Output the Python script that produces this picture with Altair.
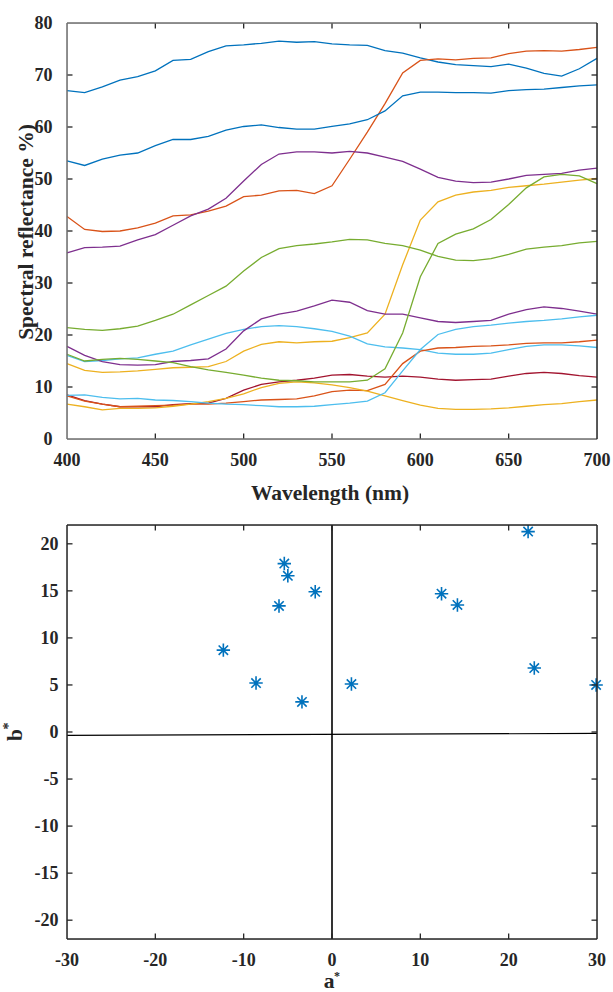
import altair as alt
import pandas as pd

# ---------------------------------------------------------------------------
# Spectral reflectance curves, 400-700 nm in 10 nm steps
# ---------------------------------------------------------------------------
wavelength = list(range(400, 701, 10))

blue_1 = [67.0, 66.6, 67.7, 69.0, 69.7, 70.8, 72.8, 73.0, 74.5, 75.6, 75.8, 76.1, 76.5, 76.3, 76.4, 76.0,
          75.8, 75.7, 74.7, 74.2, 73.3, 72.5, 72.0, 71.8, 71.6, 72.1, 71.3, 70.3, 69.8, 71.2, 73.2]
orange_1 = [42.8, 40.3, 39.9, 40.0, 40.6, 41.5, 42.9, 43.1, 43.8, 44.8, 46.6, 46.9, 47.7, 47.8, 47.2, 48.7,
            53.8, 59.0, 64.5, 70.4, 72.8, 73.1, 72.9, 73.2, 73.3, 74.1, 74.6, 74.7, 74.6, 74.9, 75.3]
yellow_1 = [14.5, 13.2, 12.8, 12.9, 13.1, 13.4, 13.7, 13.8, 13.9, 14.9, 16.9, 18.2, 18.7, 18.5, 18.7, 18.8,
            19.5, 20.4, 24.0, 33.5, 42.1, 45.6, 46.9, 47.5, 47.8, 48.4, 48.7, 49.0, 49.4, 49.8, 50.1]
purple_1 = [35.8, 36.8, 36.9, 37.1, 38.3, 39.3, 41.1, 42.9, 44.2, 46.3, 49.6, 52.8, 54.8, 55.2, 55.2, 55.0,
            55.3, 55.0, 54.2, 53.4, 51.9, 50.3, 49.6, 49.3, 49.4, 50.0, 50.7, 50.9, 51.1, 51.7, 52.1]
green_1 = [21.4, 21.1, 20.9, 21.2, 21.7, 22.8, 24.0, 25.8, 27.6, 29.4, 32.3, 34.9, 36.6, 37.2, 37.5, 37.9,
           38.4, 38.3, 37.6, 37.2, 36.3, 35.1, 34.4, 34.3, 34.7, 35.5, 36.5, 36.9, 37.2, 37.7, 38.0]
cyan_1 = [16.1, 14.9, 15.1, 15.4, 15.6, 16.3, 16.9, 18.1, 19.2, 20.3, 21.1, 21.6, 21.8, 21.6, 21.2, 20.7,
          19.8, 18.3, 17.7, 17.5, 17.2, 16.5, 16.3, 16.3, 16.5, 17.2, 17.8, 18.1, 18.1, 17.9, 17.6]
red_1 = [8.5, 7.4, 6.7, 6.2, 6.2, 6.2, 6.6, 6.8, 6.9, 7.8, 9.4, 10.5, 11.0, 11.3, 11.7, 12.3,
         12.4, 12.1, 11.9, 12.1, 11.9, 11.5, 11.3, 11.4, 11.5, 12.1, 12.6, 12.8, 12.6, 12.2, 11.9]
blue_2 = [53.5, 52.6, 53.8, 54.6, 55.0, 56.4, 57.6, 57.6, 58.2, 59.4, 60.1, 60.4, 59.9, 59.6, 59.6, 60.1,
          60.6, 61.4, 63.1, 66.0, 66.7, 66.7, 66.6, 66.6, 66.5, 67.0, 67.2, 67.3, 67.6, 67.9, 68.1]
orange_2 = [8.3, 7.3, 6.7, 6.2, 6.3, 6.4, 6.5, 6.7, 6.7, 6.9, 7.2, 7.5, 7.6, 7.7, 8.3, 9.1,
            9.4, 9.3, 10.5, 14.5, 16.9, 17.5, 17.6, 17.8, 17.9, 18.1, 18.4, 18.5, 18.5, 18.7, 19.0]
yellow_2 = [6.7, 6.2, 5.6, 5.9, 5.9, 6.0, 6.3, 6.7, 7.2, 7.8, 8.7, 9.9, 10.7, 11.0, 10.8, 10.4,
            9.9, 9.2, 8.3, 7.4, 6.5, 5.9, 5.7, 5.7, 5.8, 6.0, 6.3, 6.6, 6.8, 7.2, 7.5]
purple_2 = [17.8, 16.1, 14.9, 14.3, 14.2, 14.3, 14.9, 15.1, 15.4, 17.3, 20.8, 23.1, 24.0, 24.6, 25.6, 26.7,
            26.3, 24.7, 24.0, 24.0, 23.3, 22.6, 22.4, 22.6, 22.8, 24.0, 24.9, 25.4, 25.1, 24.6, 24.0]
green_2 = [16.3, 15.0, 15.3, 15.5, 15.3, 15.0, 14.7, 13.9, 13.3, 12.8, 12.3, 11.7, 11.3, 11.2, 11.0, 11.0,
           11.0, 11.3, 13.5, 20.4, 31.2, 37.6, 39.4, 40.4, 42.2, 45.1, 48.3, 50.4, 50.9, 50.6, 49.1]
cyan_2 = [8.4, 8.5, 8.0, 7.7, 7.8, 7.5, 7.4, 7.2, 6.9, 6.7, 6.6, 6.4, 6.2, 6.2, 6.3, 6.6,
          6.9, 7.3, 8.9, 13.1, 17.2, 20.1, 21.1, 21.6, 21.9, 22.3, 22.6, 22.8, 23.1, 23.5, 23.8]

series_names = ["S1", "S2", "S3", "S4", "S5", "S6", "S7", "S8", "S9", "S10", "S11", "S12", "S13"]
series_values = [blue_1, orange_1, yellow_1, purple_1, green_1, cyan_1, red_1,
                 blue_2, orange_2, yellow_2, purple_2, green_2, cyan_2]
series_colors = ["#0072BD", "#D95319", "#EDB120", "#7E2F8E", "#77AC30", "#4DBEEE", "#A2142F",
                 "#0072BD", "#D95319", "#EDB120", "#7E2F8E", "#77AC30", "#4DBEEE"]

# ---------------------------------------------------------------------------
# CIELAB chromaticity of the same samples
# ---------------------------------------------------------------------------
a_star = [-5.4, -5.0, -1.9, -6.0, -12.3, -8.6, -3.4, 2.2, 12.4, 14.2, 22.2, 22.9, 29.9]
b_star = [17.9, 16.6, 14.9, 13.4, 8.7, 5.2, 3.2, 5.1, 14.7, 13.5, 21.3, 6.8, 5.0]

# axis ticks
wl_ticks = [400, 450, 500, 550, 600, 650, 700]
refl_ticks = [0, 10, 20, 30, 40, 50, 60, 70, 80]
a_ticks = [-30, -20, -10, 0, 10, 20, 30]
b_ticks = [-20, -15, -10, -5, 0, 5, 10, 15, 20]

FONT = "Liberation Serif, Times New Roman, Times, DejaVu Serif, serif"
DARK = "#262626"
TICK_LEN = 5.5
TICK_FONT = 18
TITLE_FONT = 21.5
LEFT, TOP = 66, 22          # offset of the first plot area inside the page

rows = []
for name, vals in zip(series_names, series_values):
    for w, v in zip(wavelength, vals):
        rows.append({"series": name, "wavelength": w, "reflectance": v})
spectra = pd.DataFrame(rows)
lab = pd.DataFrame({"a": a_star, "b": b_star})
one_row = alt.Data(values=[{}])
text_style = dict(font=FONT, fontWeight="bold", color=DARK)


def tick_labels(xvals, yvals, xfield, yfield, xscale, yscale, h, x_base, y_right):
    """Numeric labels under the x axis and left of the y axis."""
    xs = alt.Chart(pd.DataFrame({xfield: xvals})).transform_calculate(
        label=f"'' + datum.{xfield}"
    ).mark_text(fontSize=TICK_FONT, baseline="alphabetic", align="center", **text_style).encode(
        x=alt.X(f"{xfield}:Q", scale=xscale, axis=None),
        y=alt.value(h + x_base),
        text="label:N",
    )
    ys = alt.Chart(pd.DataFrame({yfield: yvals})).transform_calculate(
        label=f"'' + datum.{yfield}"
    ).mark_text(fontSize=TICK_FONT, baseline="alphabetic", align="right", dy=6,
                **text_style).encode(
        y=alt.Y(f"{yfield}:Q", scale=yscale, axis=None),
        x=alt.value(y_right),
        text="label:N",
    )
    return [xs, ys]


def inner_ticks(xvals, yvals, xfield, yfield, xscale, yscale, w, h):
    """Inward-pointing ticks on all four sides of a panel."""
    xs = pd.DataFrame({xfield: xvals})
    ys = pd.DataFrame({yfield: yvals})
    X = alt.X(f"{xfield}:Q", scale=xscale, axis=None)
    Y = alt.Y(f"{yfield}:Q", scale=yscale, axis=None)
    base_x = alt.Chart(xs).mark_rule(color=DARK, strokeWidth=1.3)
    base_y = alt.Chart(ys).mark_rule(color=DARK, strokeWidth=1.3)
    return [
        base_x.encode(x=X, y=alt.value(h), y2=alt.value(h - TICK_LEN)),
        base_x.encode(x=X, y=alt.value(0), y2=alt.value(TICK_LEN)),
        base_y.encode(y=Y, x=alt.value(0), x2=alt.value(TICK_LEN)),
        base_y.encode(y=Y, x=alt.value(w), x2=alt.value(w - TICK_LEN)),
    ]


def frame(w, h, side_color, right_color):
    base = alt.Chart(one_row)
    return [
        base.mark_rule(color=side_color, strokeWidth=1.5).encode(
            x=alt.value(0), y=alt.value(0), y2=alt.value(h)),
        base.mark_rule(color=side_color, strokeWidth=1.5).encode(
            x=alt.value(0), x2=alt.value(w), y=alt.value(0)),
        base.mark_rule(color=side_color, strokeWidth=1.5).encode(
            x=alt.value(0), x2=alt.value(w), y=alt.value(h)),
        base.mark_rule(color=right_color, strokeWidth=1.5).encode(
            x=alt.value(w), y=alt.value(0), y2=alt.value(h)),
    ]


def label(text, x, y, size, angle=0, baseline="alphabetic", align="center"):
    kw = dict(fontSize=size, baseline=baseline, align=align, **text_style)
    if angle:
        kw["angle"] = angle
    return alt.Chart(one_row).mark_text(**kw).encode(
        x=alt.value(x), y=alt.value(y), text=alt.value(text))


# ---------------------------- top panel ------------------------------------
W1, H1 = 530, 416
wl_scale = alt.Scale(domain=[400, 700], nice=False, zero=False)
refl_scale = alt.Scale(domain=[0, 80], nice=False, zero=False)

curves = alt.Chart(spectra).mark_line(strokeWidth=1.3).encode(
    x=alt.X("wavelength:Q", scale=wl_scale, axis=None),
    y=alt.Y("reflectance:Q", scale=refl_scale, axis=None),
    color=alt.Color("series:N", scale=alt.Scale(domain=series_names, range=series_colors),
                    legend=None),
)

# white corner mark pinning the page origin, so the plot area sits at (LEFT, TOP)
corner = alt.Chart(one_row).mark_rule(color="white", strokeWidth=1).encode(
    x=alt.value(-LEFT + 0.5), x2=alt.value(-LEFT + 1.5),
    y=alt.value(-TOP + 0.5), y2=alt.value(-TOP + 0.5))

top = alt.layer(
    curves,
    *inner_ticks(wl_ticks[1:-1], refl_ticks[1:-1], "wavelength", "reflectance",
                 wl_scale, refl_scale, W1, H1),
    *frame(W1, H1, "#6e6e6e", DARK),
    *tick_labels(wl_ticks, refl_ticks, "wavelength", "reflectance",
                 wl_scale, refl_scale, H1, 26.5, -14.5),
    label("Wavelength (nm)", W1 / 2 - 2, H1 + 61, TITLE_FONT),
    label("Spectral reflectance %)", -34.5, 209, TITLE_FONT, angle=270),
    corner,
).properties(width=W1, height=H1)

# --------------------------- bottom panel ----------------------------------
W2, H2 = 530, 414
a_scale = alt.Scale(domain=[-30, 30], nice=False, zero=False)
b_scale = alt.Scale(domain=[-22, 22], nice=False, zero=False)

asterisk = "M0,-1L0,1M-1,0L1,0M-0.7,-0.7L0.7,0.7M-0.7,0.7L0.7,-0.7"

points = alt.Chart(lab).mark_point(
    shape=asterisk, filled=False, size=180, strokeWidth=1.6, color="#0072BD", opacity=1
).encode(
    x=alt.X("a:Q", scale=a_scale, axis=None),
    y=alt.Y("b:Q", scale=b_scale, axis=None),
)

vertical_zero = alt.Chart(pd.DataFrame({"a": [0]})).mark_rule(
    color="#000000", strokeWidth=1.6
).encode(x=alt.X("a:Q", scale=a_scale, axis=None))

horizontal_zero = alt.Chart(pd.DataFrame({"a": [-30, 30], "b": [-0.35, -0.15]})).mark_line(
    color="#000000", strokeWidth=1.2
).encode(
    x=alt.X("a:Q", scale=a_scale, axis=None),
    y=alt.Y("b:Q", scale=b_scale, axis=None),
)

bottom = alt.layer(
    points,
    vertical_zero,
    horizontal_zero,
    *inner_ticks(a_ticks[1:-1], b_ticks, "a", "b", a_scale, b_scale, W2, H2),
    *frame(W2, H2, DARK, DARK),
    *tick_labels(a_ticks, b_ticks, "a", "b", a_scale, b_scale, H2, 27, -8.5),
    label("a", 262, 463, TITLE_FONT),
    label("*", 270, 451, 12, baseline="middle"),
    label("b", -51, 210, TITLE_FONT, angle=270, baseline="middle"),
    label("*", -65, 201, 14, angle=270, baseline="top"),
).properties(width=W2, height=H2)

chart = alt.vconcat(top, bottom, spacing=86, bounds="flush").properties(
    padding=0,
).configure_view(stroke=None).configure(background="white")

chart.save("out.html", embed_options={"renderer": "svg", "actions": False})
